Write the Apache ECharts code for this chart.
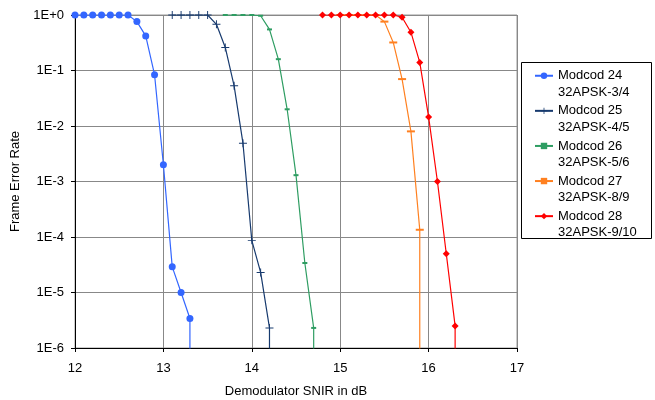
<!DOCTYPE html>
<html><head><meta charset="utf-8">
<script src="https://cdn.jsdelivr.net/npm/echarts@6/dist/echarts.min.js"></script>
<style>html,body{margin:0;padding:0;background:#fff}#c{width:655px;height:400px}</style>
</head><body><div id="c"></div>
<script>
// Data (last value at each curve = 0 frames in error, drawn as drop to axis floor)
const names = ['Modcod 24\n32APSK-3/4','Modcod 25\n32APSK-4/5','Modcod 26\n32APSK-5/6','Modcod 27\n32APSK-8/9','Modcod 28\n32APSK-9/10'];
const x24 = [12.0,12.1,12.2,12.3,12.4,12.5,12.6,12.7,12.8,12.9,13.0,13.1,13.2,13.3,13.3];
const y24 = [1,1,1,1,1,1,1,0.76,0.42,0.084,2.0e-3,2.9e-5,1.0e-5,3.4e-6,0];
const x25 = [13.1,13.2,13.3,13.4,13.5,13.6,13.7,13.8,13.9,14.0,14.1,14.2,14.2];
const y25 = [1,1,1,1,1,0.68,0.26,0.053,4.9e-3,8.7e-5,2.3e-5,2.3e-6,0];
const x26 = [13.7,13.8,13.9,14.0,14.1,14.2,14.3,14.4,14.5,14.6,14.7,14.7];
const y26 = [1,1,1,1,0.97,0.55,0.16,0.02,1.3e-3,3.4e-5,2.3e-6,0];
const x27 = [15.0,15.1,15.2,15.3,15.4,15.5,15.6,15.7,15.8,15.9,15.9];
const y27 = [1,1,1,1,1,0.76,0.32,0.07,8.0e-3,1.35e-4,0];
const x28 = [14.8,14.9,15.0,15.1,15.2,15.3,15.4,15.5,15.6,15.7,15.8,15.9,16.0,16.1,16.2,16.3,16.3];
const y28 = [1,1,1,1,1,1,1,1,1,0.91,0.49,0.14,0.0146,1.0e-3,5.0e-5,2.5e-6,0];
const xTicks = [12,13,14,15,16,17];
const yTickExp = [0,-1,-2,-3,-4,-5,-6];

const FLOOR = 1e-9; // zero values placed below the axis floor and clipped
function pts(xs, ys){
  return xs.map((x,i)=> ys[i] > 0 ? [x, ys[i]] : {value:[x, FLOOR], symbol:'none'});
}
const plus = 'path://M4.4,0H5.6V4.4H10V5.6H5.6V10H4.4V5.6H0V4.4H4.4Z';
const dash = 'path://M0,0H10V2H0Z';
const colors = ['#3366ff','#173a6e','#2e9d62','#ff8020','#ff0000'];
const symbols = ['circle', plus, dash, dash, 'diamond'];
const symSizes = [7, 8, [5,2], [8,2], 7];
const data = [pts(x24,y24),pts(x25,y25),pts(x26,y26),pts(x27,y27),pts(x28,y28)];

const font = 'Liberation Sans, Arial, sans-serif';
const chart = echarts.init(document.getElementById('c'), null, {renderer:'canvas'});
chart.setOption({
  animation:false,
  backgroundColor:'#fff',
  textStyle:{fontFamily:font},
  grid:{left:75, right:138, top:15, bottom:52, show:true, borderColor:'#999', borderWidth:1,
        containLabel:false, outerBoundsMode:'none'},
  xAxis:{
    type:'value', min:xTicks[0], max:xTicks[xTicks.length-1], interval:1,
    name:'Demodulator SNIR in dB', nameLocation:'middle', nameGap:37,
    nameTextStyle:{fontFamily:font, fontSize:13, color:'#000'},
    axisLine:{lineStyle:{color:'#000', width:1}},
    axisTick:{show:true, length:4, lineStyle:{color:'#000'}},
    axisLabel:{fontFamily:font, fontSize:13, color:'#000', margin:14},
    splitLine:{show:true, lineStyle:{color:'#888', width:1}}
  },
  yAxis:{
    type:'log', logBase:10, min:Math.pow(10,yTickExp[yTickExp.length-1]), max:Math.pow(10,yTickExp[0]),
    name:'Frame Error Rate', nameLocation:'middle', nameGap:48,
    nameTextStyle:{fontFamily:font, fontSize:13, color:'#000'},
    axisLine:{show:true, lineStyle:{color:'#000', width:1}},
    axisTick:{show:true, length:4, lineStyle:{color:'#000'}},
    axisLabel:{fontFamily:font, fontSize:13, color:'#000', margin:11,
      formatter:function(v){const e=Math.round(Math.log10(v)); return '1E'+(e>=0?'+'+e:e);}},
    splitLine:{show:true, lineStyle:{color:'#888', width:1}}
  },
  legend:{
    orient:'vertical', left:534, top:51, padding:0, itemGap:-14.4,
    itemWidth:18, itemHeight:8,
    formatter:function(n){ return '\u00a0\n' + n; },
    textStyle:{fontFamily:font, fontSize:13, color:'#000', lineHeight:16.5},
    data:names
  },
  graphic:[{type:'rect', shape:{x:521.5, y:62.5, width:130, height:176}, style:{fill:null, stroke:'#000', lineWidth:1}, silent:true}],
  series: names.map((n,i)=>({
    name:n, type:'line', data:data[i], clip:true,
    symbol:symbols[i], symbolSize:symSizes[i], showAllSymbol:true,
    lineStyle:{color:colors[i], width:1.2},
    itemStyle:{color:colors[i]},
    z: i===3 ? 2 : 3
  }))
});
</script></body></html>
